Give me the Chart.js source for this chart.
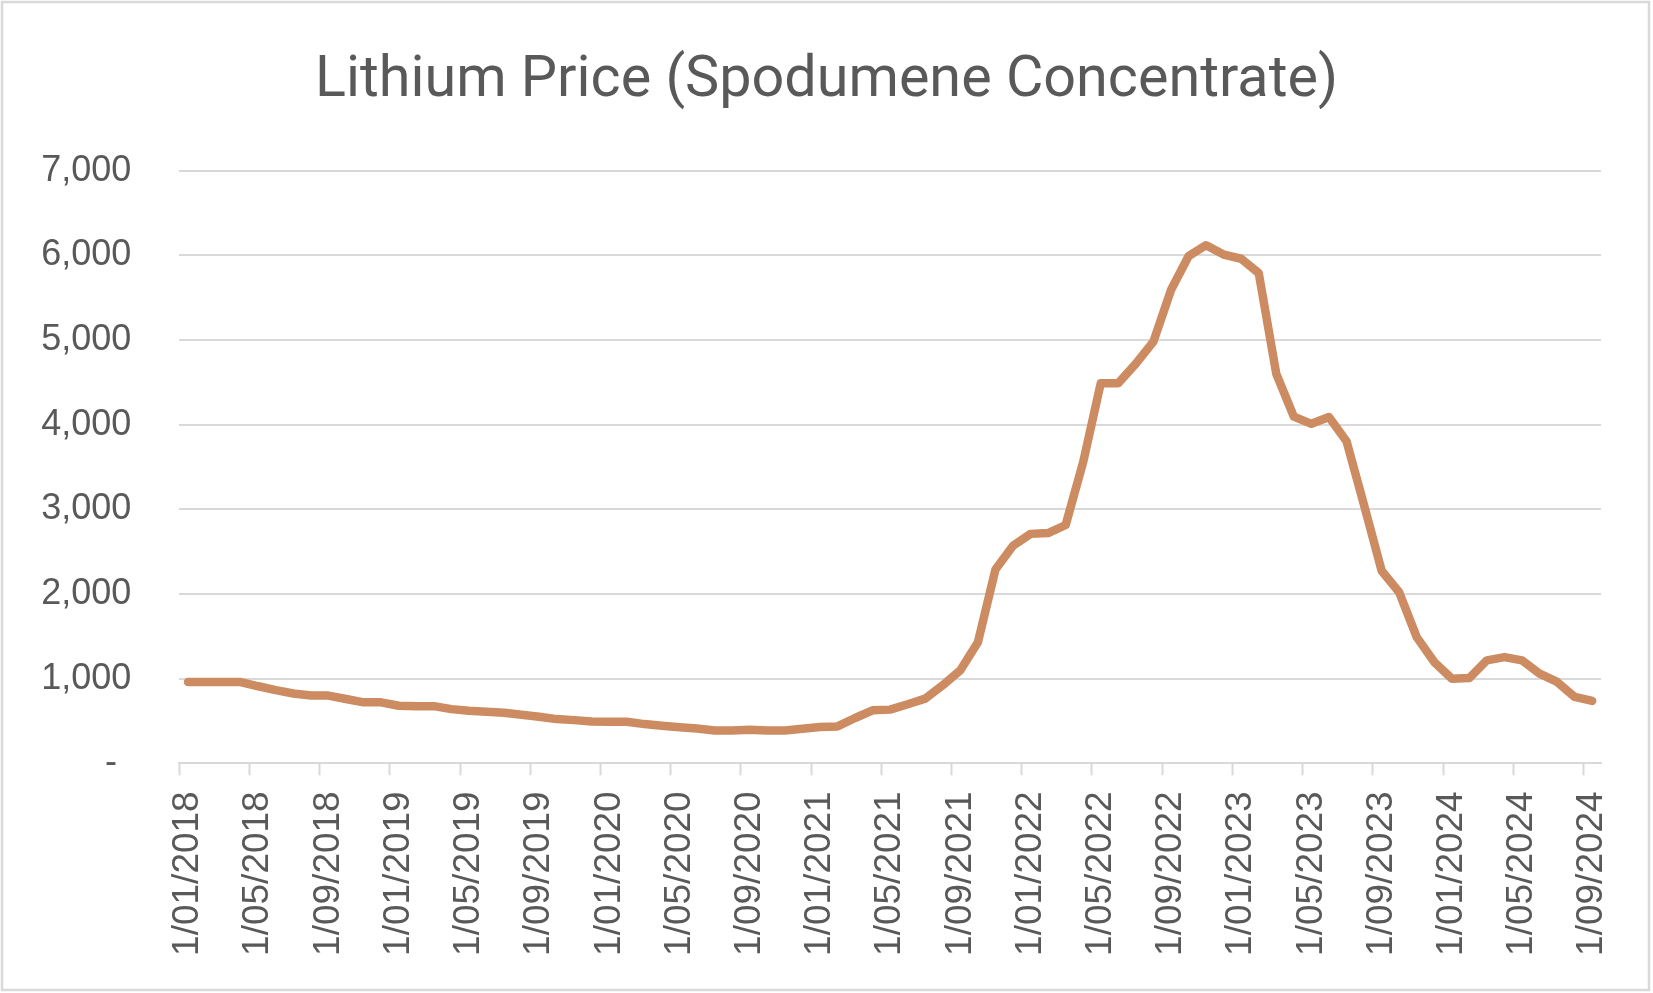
<!DOCTYPE html>
<html>
<head>
<meta charset="utf-8">
<title>Lithium Price (Spodumene Concentrate)</title>
<script src="https://cdn.jsdelivr.net/npm/chart.js@4.4.1/dist/chart.umd.min.js"></script>
<style>
    html, body { margin: 0; padding: 0; background: #ffffff; }
    canvas { display: block; }
</style>
</head>
<body>
<canvas id="lithiumChart" width="1653" height="993"></canvas>
<script>
// Monatswerte (Spodumene Konzentrat)
var labels2018 = ['1/01/2018', '1/02/2018', '1/03/2018', '1/04/2018', '1/05/2018', '1/06/2018', '1/07/2018', '1/08/2018', '1/09/2018', '1/10/2018', '1/11/2018', '1/12/2018'];
var labels2019 = ['1/01/2019', '1/02/2019', '1/03/2019', '1/04/2019', '1/05/2019', '1/06/2019', '1/07/2019', '1/08/2019', '1/09/2019', '1/10/2019', '1/11/2019', '1/12/2019'];
var labels2020 = ['1/01/2020', '1/02/2020', '1/03/2020', '1/04/2020', '1/05/2020', '1/06/2020', '1/07/2020', '1/08/2020', '1/09/2020', '1/10/2020', '1/11/2020', '1/12/2020'];
var labels2021 = ['1/01/2021', '1/02/2021', '1/03/2021', '1/04/2021', '1/05/2021', '1/06/2021', '1/07/2021', '1/08/2021', '1/09/2021', '1/10/2021', '1/11/2021', '1/12/2021'];
var labels2022 = ['1/01/2022', '1/02/2022', '1/03/2022', '1/04/2022', '1/05/2022', '1/06/2022', '1/07/2022', '1/08/2022', '1/09/2022', '1/10/2022', '1/11/2022', '1/12/2022'];
var labels2023 = ['1/01/2023', '1/02/2023', '1/03/2023', '1/04/2023', '1/05/2023', '1/06/2023', '1/07/2023', '1/08/2023', '1/09/2023', '1/10/2023', '1/11/2023', '1/12/2023'];
var labels2024 = ['1/01/2024', '1/02/2024', '1/03/2024', '1/04/2024', '1/05/2024', '1/06/2024', '1/07/2024', '1/08/2024', '1/09/2024'];

var price2018 = [960, 960, 960, 960, 910, 865, 825, 800, 800, 760, 720, 720];
var price2019 = [680, 675, 675, 640, 620, 608, 596, 573, 550, 522, 510, 495];
var price2020 = [490, 490, 463, 443, 427, 410, 388, 388, 396, 388, 388, 408];
var price2021 = [428, 436, 535, 626, 634, 697, 764, 923, 1100, 1430, 2290, 2570];
var price2022 = [2710, 2720, 2815, 3560, 4490, 4490, 4720, 4980, 5590, 5990, 6120, 6010];
var price2023 = [5960, 5790, 4600, 4095, 4010, 4090, 3805, 3050, 2275, 2020, 1490, 1196];
var price2024 = [1000, 1008, 1216, 1255, 1216, 1059, 961, 784, 737];

var yTicks = [0, 1000, 2000, 3000, 4000, 5000, 6000, 7000];

var labels = [].concat(labels2018, labels2019, labels2020, labels2021, labels2022, labels2023, labels2024);
var prices = [].concat(price2018, price2019, price2020, price2021, price2022, price2023, price2024);

var textColor = '#595959';
var gridColor = '#d9d9d9';

// weisser Hintergrund + grauer Rahmen wie im Excel-Diagramm
var framePlugin = {
    id: 'frame',
    beforeDraw: function(chart) {
        var c = chart.ctx;
        c.save();
        c.fillStyle = '#ffffff';
        c.fillRect(0, 0, chart.width, chart.height);
        c.strokeStyle = gridColor;
        c.lineWidth = 2.5;
        c.strokeRect(2, 2, 1647, 988);
        c.restore();
    }
};

var chart = new Chart(document.getElementById('lithiumChart'), {
    type: 'line',
    data: {
        labels: labels,
        datasets: [{
            label: 'Lithium Price',
            data: prices,
            borderColor: '#CC8B60',
            borderWidth: 8.5,
            borderCapStyle: 'round',
            borderJoinStyle: 'round',
            pointRadius: 0,
            fill: false,
            tension: 0
        }]
    },
    options: {
        responsive: false,
        animation: false,
        devicePixelRatio: 1,
        layout: {padding: 0},
        plugins: {
            legend: {display: false},
            tooltip: {enabled: false},
            title: {
                display: true,
                text: 'Lithium Price (Spodumene Concentrate)',
                color: textColor,
                font: {family: 'Roboto', size: 57.5, weight: 'normal'},
                padding: {top: 47.5, bottom: 54.2}
            }
        },
        scales: {
            x: {
                offset: true,
                grid: {
                    offset: true,
                    drawOnChartArea: false,
                    tickLength: 12,
                    tickWidth: 2,
                    tickColor: function(ctx) {
                        return ctx.index % 4 === 0 ? gridColor : 'rgba(0,0,0,0)';
                    }
                },
                border: {color: gridColor, width: 2},
                ticks: {
                    autoSkip: false,
                    minRotation: 90,
                    maxRotation: 90,
                    padding: 16,
                    color: textColor,
                    font: {family: 'Liberation Sans', size: 37},
                    callback: function(value, index) {
                        return index % 4 === 0 ? this.getLabelForValue(value) : '';
                    }
                },
                afterFit: function(scale) {
                    // Platz rechts vom Diagramm ueber das Padding der Achse
                    scale.height = 229.7;
                    scale.paddingLeft = 0;
                    scale.paddingRight = 52;
                }
            },
            y: {
                min: yTicks[0],
                max: yTicks[yTicks.length - 1],
                grid: {color: gridColor, lineWidth: 2, drawTicks: false},
                border: {display: false},
                ticks: {
                    stepSize: 1000,
                    padding: 48,
                    color: textColor,
                    font: {family: 'Liberation Sans', size: 36},
                    callback: function(value) {
                        return value === 0 ? '-\u2009\u2009' : value.toLocaleString('en-US');
                    }
                },
                afterFit: function(scale) {
                    scale.width = 179.3;
                    scale.paddingTop = 0;
                    scale.paddingBottom = 0;
                }
            }
        }
    },
    plugins: [framePlugin]
});
</script>
</body>
</html>
